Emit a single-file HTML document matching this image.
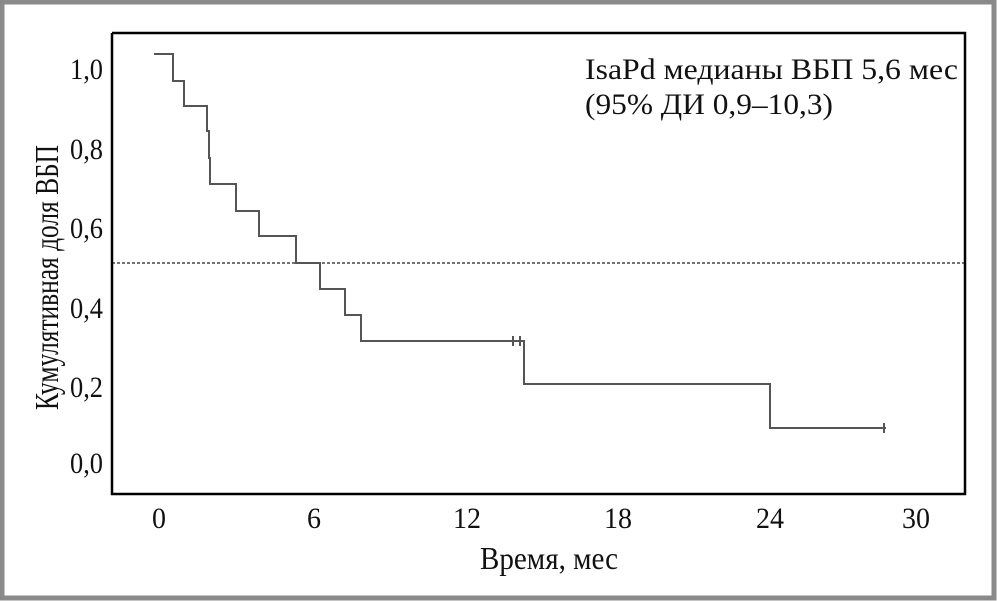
<!DOCTYPE html>
<html><head><style>
html,body{margin:0;padding:0;background:#fff}
</style></head><body>
<svg width="998" height="601" xmlns="http://www.w3.org/2000/svg" style="display:block">
<rect x="2" y="2" width="992" height="596" fill="#fff" stroke="#8a8a8a" stroke-width="5"/>
<g font-family="Liberation Serif, serif" font-size="30" fill="#111">
<text x="70" y="79" textLength="33" lengthAdjust="spacingAndGlyphs">1,0</text>
<text x="70" y="159" textLength="33" lengthAdjust="spacingAndGlyphs">0,8</text>
<text x="70" y="238" textLength="33" lengthAdjust="spacingAndGlyphs">0,6</text>
<text x="70" y="318" textLength="33" lengthAdjust="spacingAndGlyphs">0,4</text>
<text x="70" y="397" textLength="33" lengthAdjust="spacingAndGlyphs">0,2</text>
<text x="70" y="473" textLength="33" lengthAdjust="spacingAndGlyphs">0,0</text>
<text x="152" y="528" textLength="14" lengthAdjust="spacingAndGlyphs">0</text>
<text x="307" y="528" textLength="14" lengthAdjust="spacingAndGlyphs">6</text>
<text x="453" y="528" textLength="28" lengthAdjust="spacingAndGlyphs">12</text>
<text x="604" y="528" textLength="28" lengthAdjust="spacingAndGlyphs">18</text>
<text x="756" y="528" textLength="28" lengthAdjust="spacingAndGlyphs">24</text>
<text x="902" y="528" textLength="28" lengthAdjust="spacingAndGlyphs">30</text>
<text x="480" y="569" font-size="32" textLength="138" lengthAdjust="spacingAndGlyphs">Время, мес</text>
<text transform="translate(58,410) rotate(-90)" font-size="34" textLength="265" lengthAdjust="spacingAndGlyphs">Кумулятивная доля ВБП</text>
<text x="585" y="79" textLength="373" lengthAdjust="spacingAndGlyphs">IsaPd медианы ВБП 5,6 мес</text>
<text x="585" y="114" textLength="248" lengthAdjust="spacingAndGlyphs">(95% ДИ 0,9–10,3)</text>
</g>
<line x1="112" y1="263" x2="964" y2="263" stroke="#222" stroke-width="1.3" stroke-dasharray="3,2"/>
<polyline fill="none" stroke="#555" stroke-width="2" points="154,54 173,54 173,81 184,81 184,106 207,106 207,131 209,131 209,158 210,158 210,184 236,184 236,211 259,211 259,236 296,236 296,263 320,263 320,289 345,289 345,315 361,315 361,341 524,341 524,384 770,384 770,428 886,428"/>
<g stroke="#555" stroke-width="2">
<line x1="513" y1="336" x2="513" y2="346"/><line x1="520" y1="336" x2="520" y2="346"/><line x1="884" y1="423" x2="884" y2="433"/>
</g>
<polyline fill="none" stroke="#000" stroke-width="2.5" points="112,33 965,33 965,494 112,494 112,33"/>
</svg>
</body></html>
